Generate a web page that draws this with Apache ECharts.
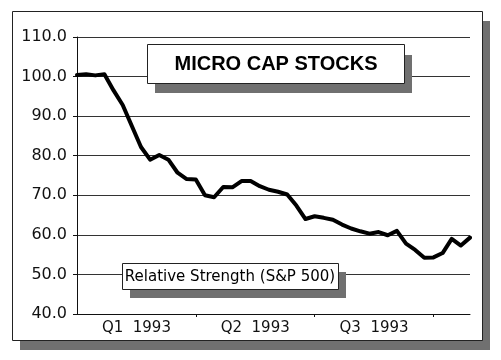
<!DOCTYPE html>
<html>
<head>
<meta charset="utf-8">
<script src="https://cdn.jsdelivr.net/npm/echarts@6/dist/echarts.min.js"></script>
<style>
html,body{margin:0;padding:0;background:#fff;}
#chart{width:501px;height:360px;}
</style>
</head>
<body>
<div id="chart"></div>
<script>
// Weekly index values (week 0 = start of Q1 1993)
var weeks = [0,1,2,3,4,5,6,7,8,9,10,11,12,13,14,15,16,17,18,19,20,21,22,23,24,25,26,27,28,29,30,31,32,33,34,35,36,37,38,39,40,41,42,43];
var values = [100.4,100.6,100.3,100.6,96.5,92.8,87.5,82.2,79.0,80.2,79.0,75.7,74.1,74.0,70.0,69.5,72.1,72.0,73.6,73.6,72.3,71.4,70.9,70.2,67.4,64.0,64.7,64.3,63.8,62.6,61.6,60.9,60.3,60.7,59.9,61.0,57.8,56.2,54.2,54.3,55.4,59.0,57.3,59.3];
var quarterLabels = ['Q1  1993','Q2  1993','Q3  1993'];
var quarterTicks = [13,26,39];
var quarterCenters = [6.5,19.5,32.5];
var titleText = 'MICRO CAP STOCKS';
var legendText = 'Relative Strength (S&P 500)';

var chart = echarts.init(document.getElementById('chart'), null, {renderer:'canvas'});
var pts = weeks.map(function(w,i){return [w, values[i]];});
var SHADOW = '#707070';
var FONT = 'DejaVu Sans';

chart.setOption({
  animation:false,
  backgroundColor:'#fff',
  grid:{left:77,right:31,top:37,bottom:46,containLabel:false},
  xAxis:{
    type:'value',min:0,max:43,
    axisLine:{show:true,lineStyle:{color:'#111',width:1}},
    axisTick:{show:true,inside:false,length:3,customValues:quarterTicks,lineStyle:{color:'#111'}},
    axisLabel:{show:true,margin:7,color:'#111',fontFamily:FONT,fontSize:15,
      customValues:quarterCenters,
      formatter:function(v){
        for(var i=0;i<quarterCenters.length;i++){ if(Math.abs(v-quarterCenters[i])<0.01) return quarterLabels[i]; }
        return '';
      }},
    splitLine:{show:false}
  },
  yAxis:{
    type:'value',min:40,max:110,interval:10,
    axisLine:{show:true,lineStyle:{color:'#111',width:1}},
    axisTick:{show:true,length:4,lineStyle:{color:'#111'}},
    axisLabel:{margin:10,color:'#111',fontFamily:FONT,fontSize:16,
      formatter:function(v){return v.toFixed(1);}},
    splitLine:{show:true,lineStyle:{color:'#333',width:1}}
  },
  series:[{
    type:'line',data:pts,
    symbol:'none',smooth:false,
    lineStyle:{color:'#000',width:4,join:'round',cap:'round'},
    z:3
  }],
  graphic:[
    // outer frame shadow
    {type:'rect',shape:{x:482,y:21,width:8,height:329},style:{fill:SHADOW},z:1},
    {type:'rect',shape:{x:20,y:341,width:470,height:9},style:{fill:SHADOW},z:1},
    {type:'rect',shape:{x:12.5,y:11.5,width:470,height:329},style:{fill:'none',stroke:'#222',lineWidth:1},z:1},
    // title box
    {type:'rect',shape:{x:155,y:55,width:257,height:38},style:{fill:SHADOW},z:100},
    {type:'rect',shape:{x:147.5,y:44.5,width:257,height:39},style:{fill:'#fff',stroke:'#222',lineWidth:1},z:101},
    {type:'text',x:276,y:64,style:{text:titleText,fill:'#000',font:'bold 20px "Liberation Sans", Arial, sans-serif',textAlign:'center',textVerticalAlign:'middle'},z:102},
    // legend box
    {type:'rect',shape:{x:130,y:272,width:216,height:26},style:{fill:SHADOW},z:100},
    {type:'rect',shape:{x:122.5,y:263.5,width:216,height:26},style:{fill:'#fff',stroke:'#222',lineWidth:1},z:101},
    {type:'text',x:230,y:277,style:{text:legendText,fill:'#000',font:'15px "DejaVu Sans", sans-serif',textAlign:'center',textVerticalAlign:'middle'},z:102}
  ]
});
</script>
</body>
</html>
